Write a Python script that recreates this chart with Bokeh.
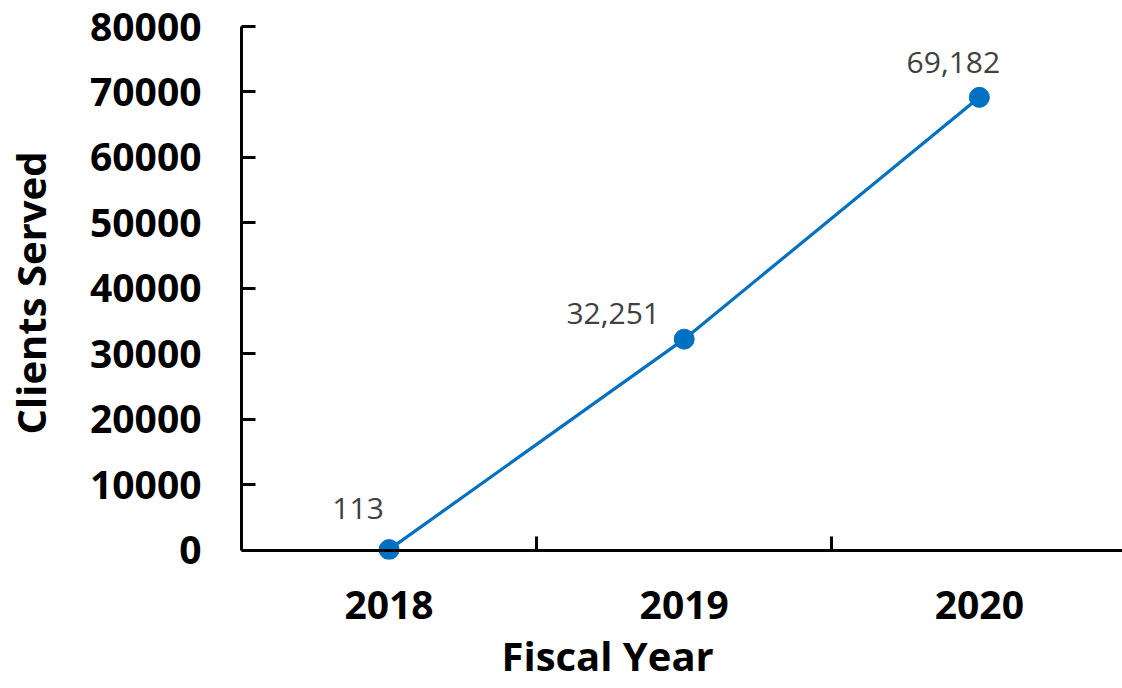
from bokeh.plotting import figure
from bokeh.models import Range1d, FixedTicker, ColumnDataSource, LabelSet, LinearAxis, Title
from bokeh.core.properties import value
from bokeh.embed import file_html
from bokeh.resources import INLINE

years = ["2018", "2019", "2020"]
clients = [113, 32251, 69182]
y_ticks = [0, 10000, 20000, 30000, 40000, 50000, 60000, 70000, 80000]

idx = list(range(len(years)))
label_text = [f"{v:,}" for v in clients]
label_dx = [-31, -71, -26]
label_dy = [41, 26, 35]

src = ColumnDataSource(dict(x=idx, y=clients, t=label_text, dx=label_dx, dy=label_dy))

FONT = "Open Sans"
BLUE = "#0070C0"

p = figure(width=1122, height=688, output_backend="svg", toolbar_location=None,
           x_range=Range1d(-0.5, 2.485), y_range=Range1d(-1400, 80000),
           min_border_left=240, min_border_right=0, min_border_top=26, min_border_bottom=129)
p.outline_line_color = None
p.grid.visible = False
p.background_fill_color = "white"

p.line("x", "y", source=src, line_color=BLUE, line_width=3.2)
p.scatter("x", "y", source=src, size=20, fill_color=BLUE, line_color=BLUE)

labels = LabelSet(x="x", y="y", text="t", source=src, x_offset="dx", y_offset="dy",
                  text_align="center", text_baseline="middle",
                  text_font=value(FONT), text_font_size="30px", text_color="#404040")
p.add_layout(labels)

# x axis line at y = 0 with ticks between categories
xa = p.xaxis[0]
xa.fixed_location = 0
xa.ticker = FixedTicker(ticks=[], minor_ticks=[0.5, 1.5])
xa.major_tick_in = 0
xa.major_tick_out = 0
xa.minor_tick_in = 14
xa.minor_tick_out = 0
xa.minor_tick_line_width = 3
xa.minor_tick_line_color = "black"
xa.axis_line_width = 3
xa.axis_line_color = "black"
xa.major_label_text_font_size = "1px"
xa.major_label_standoff = 0

# category labels
xl = LinearAxis(ticker=FixedTicker(ticks=idx),
                major_label_overrides={i: y for i, y in zip(idx, years)})
xl.axis_line_color = None
xl.major_tick_line_color = None
xl.minor_tick_line_color = None
xl.major_tick_in = 0
xl.major_tick_out = 0
xl.major_label_text_font = FONT
xl.major_label_text_font_style = "bold"
xl.major_label_text_font_size = "39px"
xl.major_label_text_color = "black"
xl.major_label_standoff = 31
p.add_layout(xl, "below")

xt = Title(text="Fiscal Year", align="left", offset=260, standoff=9,
           text_font=FONT, text_font_style="bold", text_font_size="40px", text_color="black")
p.add_layout(xt, "below")

ya = p.yaxis[0]
ya.bounds = (0, 80000)
ya.ticker = FixedTicker(ticks=y_ticks)
ya.minor_tick_line_color = None
ya.major_tick_in = 14
ya.major_tick_out = 0
ya.major_tick_line_width = 3
ya.major_tick_line_color = "black"
ya.axis_line_width = 3
ya.axis_line_color = "black"
ya.major_label_text_font = FONT
ya.major_label_text_font_style = "bold"
ya.major_label_text_font_size = "39px"
ya.major_label_text_color = "black"
ya.major_label_standoff = 40
ya.axis_label = "Clients Served"
ya.axis_label_text_font = FONT
ya.axis_label_text_font_style = "bold"
ya.axis_label_text_font_size = "40px"
ya.axis_label_text_color = "black"
ya.axis_label_standoff = 29

open("out.html", "w").write(file_html(p, INLINE))
